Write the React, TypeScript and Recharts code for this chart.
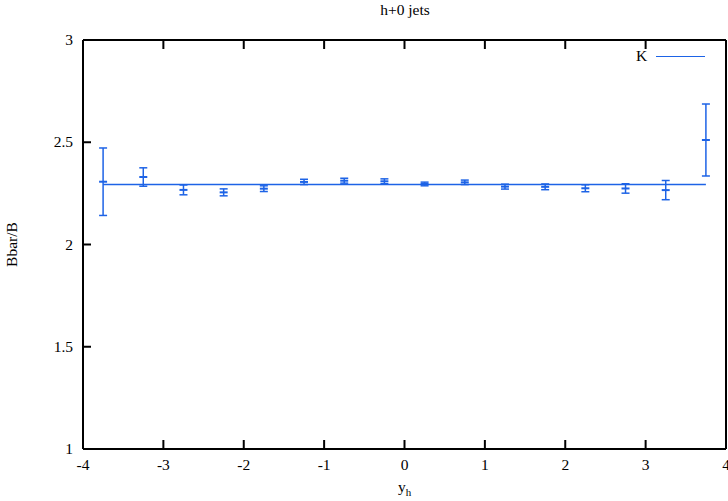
import React from 'react';
import {
  ComposedChart,
  Scatter,
  Line,
  XAxis,
  YAxis,
  ErrorBar,
  Legend,
} from 'recharts';

// rapidity bins (bin centres) and the ratio measured in each
const binCentres = [-3.75, -3.25, -2.75, -2.25, -1.75, -1.25, -0.75, -0.25, 0.25, 0.75, 1.25, 1.75, 2.25, 2.75, 3.25, 3.75];
const ratio = [2.307, 2.33, 2.267, 2.255, 2.273, 2.306, 2.312, 2.309, 2.296, 2.304, 2.283, 2.282, 2.275, 2.274, 2.266, 2.511];
const ratioErr = [0.165, 0.045, 0.024, 0.017, 0.014, 0.013, 0.012, 0.012, 0.009, 0.011, 0.012, 0.014, 0.017, 0.023, 0.047, 0.176];

// constant K factor fitted over the full range
const kValue = 2.294;
const kRange = [-3.75, 3.75];

const xTicks = [-4, -3, -2, -1, 0, 1, 2, 3, 4];
const yTicks = [1, 1.5, 2, 2.5, 3];

const BLUE = '#1d63e6';
const FONT = 'Liberation Serif, serif';
const FS = 15.5;

const points = binCentres.map((x, i) => ({ x, val: ratio[i], err: ratioErr[i] }));
const kLine = kRange.map((x) => ({ x, k: kValue }));

const BottomTick = (props: any) => {
  const { x, y, payload } = props;
  return (
    <g>
      <line x1={x} y1={y} x2={x} y2={y - 9} stroke="#000" strokeWidth={2} />
      <text x={x} y={y + 21} textAnchor="middle" style={{ fontFamily: FONT }} fontSize={FS} fill="#000">
        {payload.value}
      </text>
    </g>
  );
};

const TopTick = (props: any) => {
  const { x, y } = props;
  return <line x1={x} y1={y} x2={x} y2={y + 9} stroke="#000" strokeWidth={2} />;
};

const LeftTick = (props: any) => {
  const { x, y, payload } = props;
  return (
    <g>
      <line x1={x} y1={y} x2={x + 8} y2={y} stroke="#000" strokeWidth={2} />
      <text x={x - 10} y={y + 5} textAnchor="end" style={{ fontFamily: FONT }} fontSize={FS} fill="#000">
        {payload.value}
      </text>
    </g>
  );
};

const RightTick = (props: any) => {
  const { x, y } = props;
  return <line x1={x} y1={y} x2={x - 8} y2={y} stroke="#000" strokeWidth={2} />;
};

// small horizontal bar marking the central value
const CentreMark = (props: any) => {
  const { cx, cy } = props;
  return <line x1={cx - 4} y1={cy} x2={cx + 4} y2={cy} stroke={BLUE} strokeWidth={2} />;
};

const KLegend = () => (
  <div style={{ display: 'flex', alignItems: 'center', fontFamily: FONT, fontSize: FS, color: '#000' }}>
    <span style={{ marginRight: 9 }}>K</span>
    <span style={{ display: 'inline-block', width: 49, height: 0, borderTop: `1.5px solid ${BLUE}` }} />
  </div>
);

export default function App() {
  return (
    <div style={{ position: 'absolute', left: 0, top: 0, width: 728, height: 501, background: '#fff' }}>
      <div
        style={{
          position: 'absolute',
          top: 1,
          left: 0,
          width: 810,
          textAlign: 'center',
          fontFamily: FONT,
          fontSize: FS,
          color: '#000',
        }}
      >
        h+0 jets
      </div>
      <ComposedChart
        width={728}
        height={501}
        data={points}
        margin={{ top: 39, right: 1, bottom: 0, left: 0 }}
      >
        <XAxis
          dataKey="x"
          type="number"
          domain={[-4, 4]}
          ticks={xTicks}
          allowDataOverflow
          height={52}
          tickSize={0}
          tickMargin={0}
          tickLine={false}
          axisLine={{ stroke: '#000', strokeWidth: 2 }}
          tick={<BottomTick />}
          interval={0}
          label={(p: any) => {
            const vb = p.viewBox;
            return (
              <text x={vb.x + vb.width / 2} y={492} textAnchor="middle" style={{ fontFamily: FONT }} fontSize={FS} fill="#000">
                y<tspan fontSize={11} dy={4}>h</tspan>
              </text>
            );
          }}
        />
        <XAxis
          xAxisId="top"
          orientation="top"
          dataKey="x"
          type="number"
          domain={[-4, 4]}
          ticks={xTicks.slice(1, -1)}
          height={1}
          tickSize={0}
          tickMargin={0}
          tickLine={false}
          axisLine={{ stroke: '#000', strokeWidth: 2 }}
          tick={<TopTick />}
          interval={0}
        />
        <YAxis
          type="number"
          domain={[1, 3]}
          ticks={yTicks}
          width={83}
          tickSize={0}
          tickMargin={0}
          tickLine={false}
          axisLine={{ stroke: '#000', strokeWidth: 2 }}
          tick={<LeftTick />}
          interval={0}
          label={(p: any) => {
            const vb = p.viewBox;
            const cy = vb.y + vb.height / 2;
            return (
              <text
                x={17}
                y={cy}
                transform={`rotate(-90 17 ${cy})`}
                textAnchor="middle"
                style={{ fontFamily: FONT }}
                fontSize={FS}
                fill="#000"
              >
                Bbar/B
              </text>
            );
          }}
        />
        <YAxis
          yAxisId="right"
          orientation="right"
          type="number"
          domain={[1, 3]}
          ticks={yTicks.slice(1, -1)}
          width={1}
          tickSize={0}
          tickMargin={0}
          tickLine={false}
          axisLine={{ stroke: '#000', strokeWidth: 2 }}
          tick={<RightTick />}
          interval={0}
        />
        <Legend
          layout="vertical"
          align="center"
          verticalAlign="middle"
          content={<KLegend />}
          wrapperStyle={{ top: 47, left: 636, width: 80 }}
        />
        <Line
          data={kLine}
          dataKey="k"
          name="K"
          stroke={BLUE}
          strokeWidth={1.5}
          dot={false}
          activeDot={false}
          isAnimationActive={false}
        />
        <Scatter dataKey="val" shape={<CentreMark />} isAnimationActive={false} legendType="none">
          <ErrorBar dataKey="err" direction="y" width={4} stroke={BLUE} strokeWidth={1.5} />
        </Scatter>
      </ComposedChart>
    </div>
  );
}
